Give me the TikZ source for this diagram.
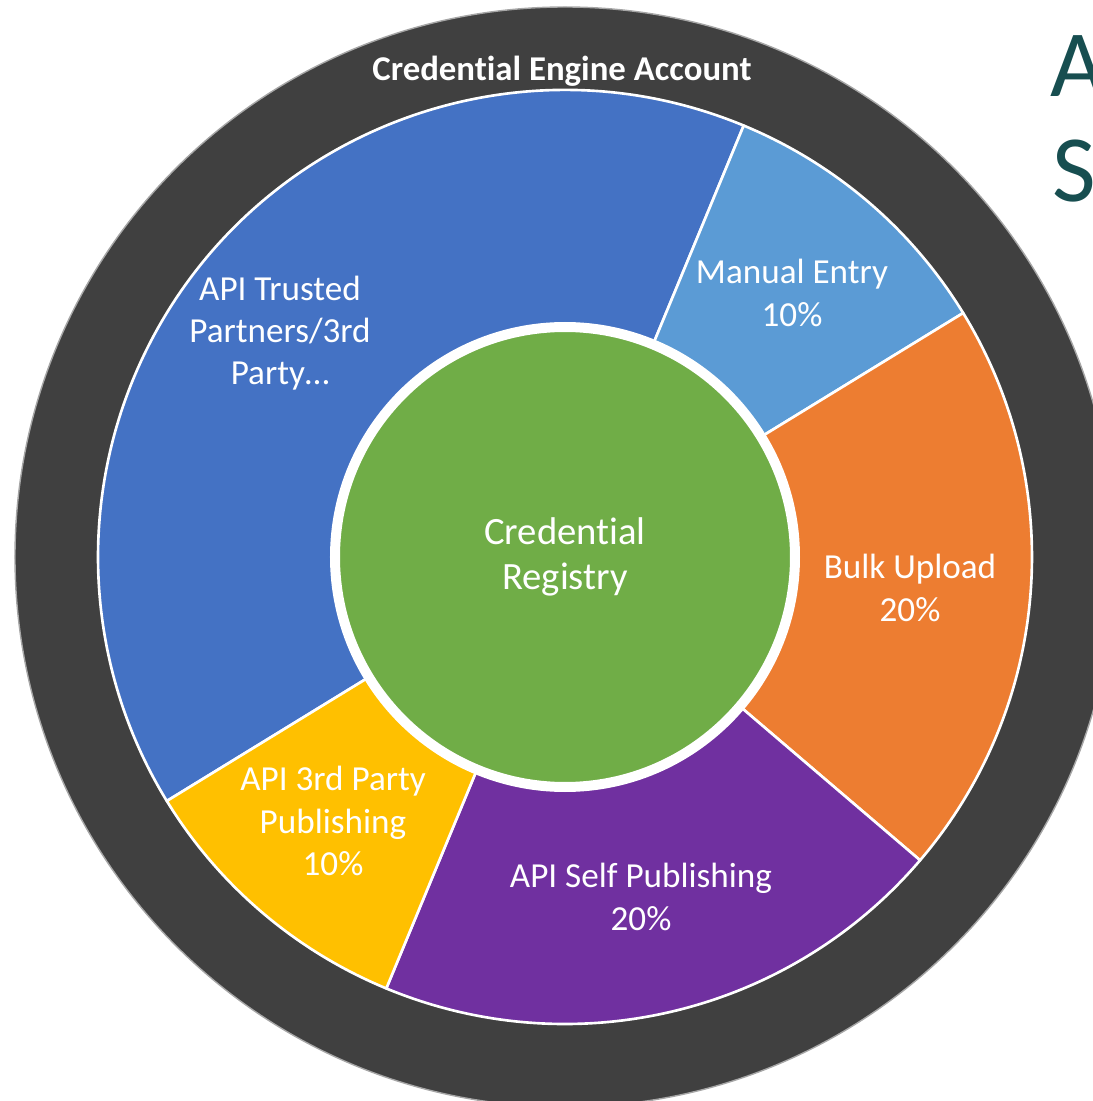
\documentclass[tikz,border=0pt]{standalone}
\usepackage{fontspec}
\setmainfont{Carlito}[Ligatures=NoCommon]
\definecolor{accountgray}{RGB}{64,64,64}
\definecolor{trustedblue}{RGB}{68,114,196}
\definecolor{manualblue}{RGB}{91,155,213}
\definecolor{bulkorange}{RGB}{237,125,49}
\definecolor{selfpurple}{RGB}{112,48,160}
\definecolor{thirdyellow}{RGB}{255,192,0}
\definecolor{registrygreen}{RGB}{112,173,71}
\definecolor{titleteal}{RGB}{23,78,80}
\tikzset{
  seg/.style={draw=white, line width=1.5pt, line join=round},
  lbl/.style={text=white, align=center, font=\fontsize{20}{24}\selectfont},
}
\begin{document}
\begin{tikzpicture}
\useasboundingbox (-11.3,-10.88) rectangle (10.54,11.14);

\node[draw=gray!70, circle, fill=accountgray, minimum size=22cm, line width=0.8pt] (account) at (0,0) {};

\path[seg, fill=trustedblue] (0,0) -- (67.5:9.34) arc[start angle=67.5, end angle=211.5, radius=9.34] -- cycle;
\path[seg, fill=manualblue] (0,0) -- (31.5:9.34) arc[start angle=31.5, end angle=67.5, radius=9.34] -- cycle;
\path[seg, fill=bulkorange] (0,0) -- (-40.5:9.34) arc[start angle=-40.5, end angle=31.5, radius=9.34] -- cycle;
\path[seg, fill=selfpurple] (0,0) -- (-112.5:9.34) arc[start angle=-112.5, end angle=-40.5, radius=9.34] -- cycle;
\path[seg, fill=thirdyellow] (0,0) -- (-148.5:9.34) arc[start angle=-148.5, end angle=-112.5, radius=9.34] -- cycle;

\node[circle, fill=registrygreen, draw=white, line width=0.2cm, minimum size=9.2cm, lbl, font=\fontsize{22}{25.5}\selectfont] (registry) at (0,0) {Credential\\Registry};

\node[lbl] (trusted) at (-5.7,4.48) {API Trusted\\Partners/3rd\\Party…};
\node[lbl] (manual) at (4.54,5.28) {Manual Entry\\10\%};
\node[lbl] (bulk) at (6.9,-0.62) {Bulk Upload\\20\%};
\node[lbl] (self) at (1.52,-6.8) {API Self Publishing\\20\%};
\node[lbl] (third) at (-4.64,-5.28) {API 3rd Party\\Publishing\\10\%};

\node[text=white, font=\bfseries\fontsize{19.8}{22}\selectfont] (accname) at (-0.06,9.72) {Credential Engine Account};

\node[text=titleteal, anchor=base west, inner sep=0pt, font=\fontsize{54}{60}\selectfont] (titleA) at (9.7,9.2) {A};
\node[text=titleteal, anchor=base west, inner sep=0pt, font=\fontsize{54}{60}\selectfont] (titleS) at (9.74,7.1) {S};

\end{tikzpicture}
\end{document}
